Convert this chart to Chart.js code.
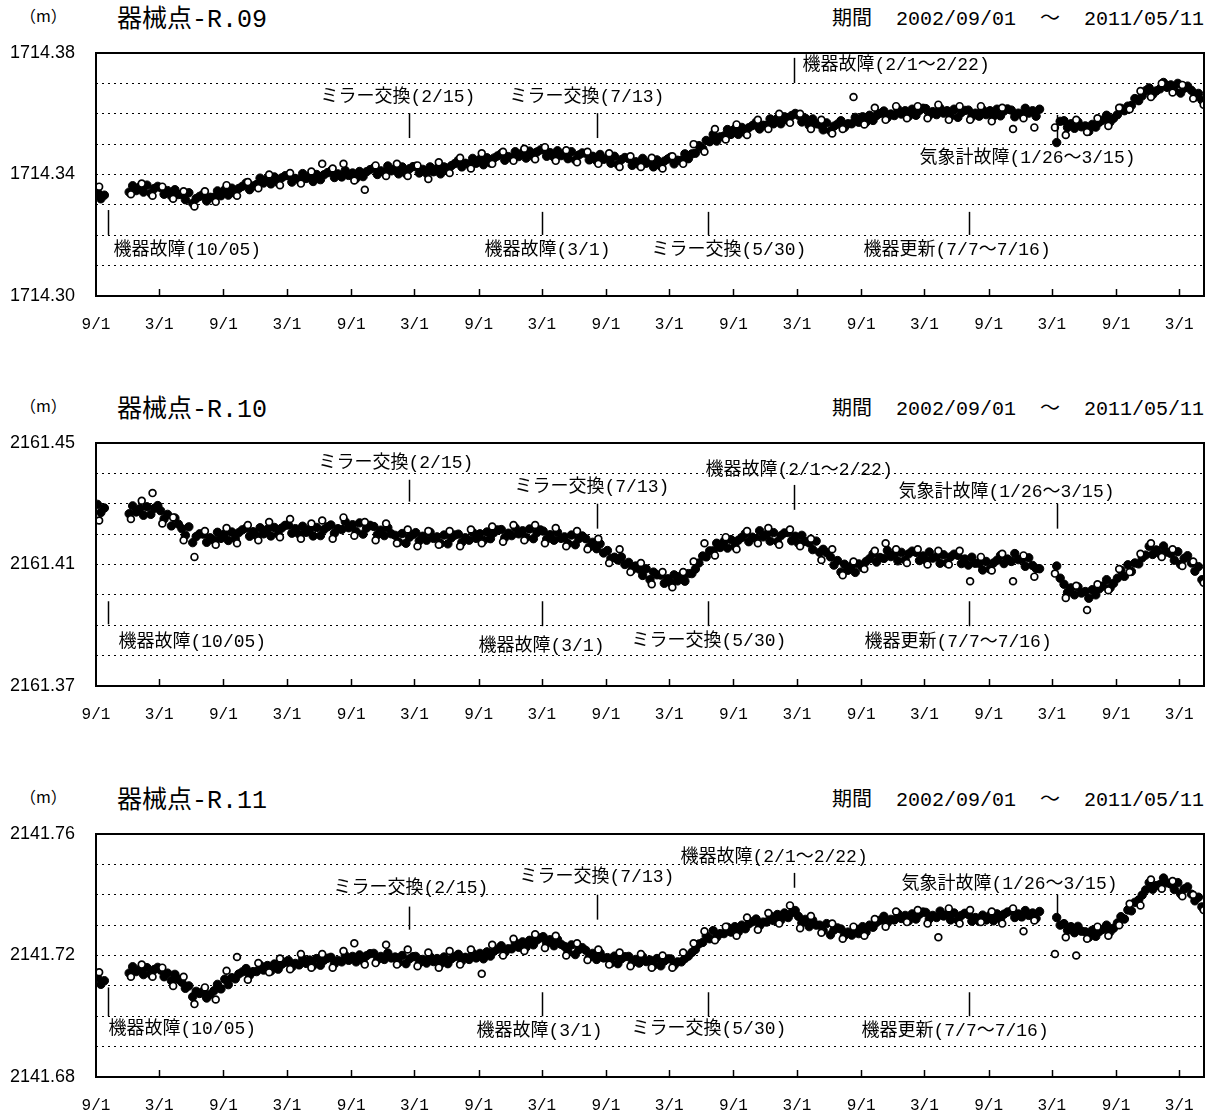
<!DOCTYPE html>
<html lang="ja">
<head>
<meta charset="utf-8">
<script src="https://cdn.jsdelivr.net/npm/chart.js@4.4.1/dist/chart.umd.min.js"></script>
<style>
  body { margin: 0; background: #fff; }
  #page { position: relative; width: 1218px; height: 1117px; overflow: hidden; }
  .panel { position: absolute; left: 0; width: 1218px; height: 345px; }
  .unit { position: absolute; left: 20px; top: 6px; font: 16px "Noto Sans CJK JP"; line-height: 18px; }
  .name { position: absolute; left: 117px; top: 5px; font: 25px "Liberation Mono", "Noto Sans CJK JP"; line-height: 32px; }
  .period { position: absolute; right: 14px; top: 6px; font: 20px "Liberation Mono", "Noto Sans CJK JP"; line-height: 28px; white-space: pre; }
  canvas { position: absolute; left: 0; top: 40px; }
</style>
</head>
<body>
<div id="page"></div>
<script>
// 期間
const PERIOD = '期間  2002/09/01  ～  2011/05/11';
const X_START = '2002-09-01';
const X_END = '2011-05-11';

// x軸の目盛（9/1 と 3/1）
const TICK_DATES = ['2002-09-01', '2003-03-01', '2003-09-01', '2004-03-01', '2004-09-01', '2005-03-01',
  '2005-09-01', '2006-03-01', '2006-09-01', '2007-03-01', '2007-09-01', '2008-03-01',
  '2008-09-01', '2009-03-01', '2009-09-01', '2010-03-01', '2010-09-01', '2011-03-01'];
const TICK_LABELS = ['9/1', '3/1', '9/1', '3/1', '9/1', '3/1', '9/1', '3/1', '9/1',
  '3/1', '9/1', '3/1', '9/1', '3/1', '9/1', '3/1', '9/1', '3/1'];

// 各月の観測日（黒丸 = 5, 15, 25日 / 白丸 = 10日）
const FILLED_DAYS = [5, 15, 25];
const OPEN_DAYS = [10];

// 器械点-R.09 （基準値からの mm）
const R09_BASE = 1714.30;
const R09_FILLED = [
  34.2,32,33.2, null,null,null, null,null,null, 34.2,36.3,34.7,
  36,34.2,36.5, 33.8,35.4,36.1, 35.7,33.5,34.7, 32.9,35,33.4, 33.5,31.7,34, 30.5,32.1,32.8, 33.5,31.3,32.5, 32.5,34.6,33, 35,33.2,35.5, 33.8,35.4,36.1, 37.2,35,36.2, 36.7,38.8,37.2,
  38.7,36.9,39.2, 37.3,38.9,39.6, 39.7,37.5,38.7, 38.2,40.3,38.7, 39.5,37.7,40, 38.3,39.9,40.6, 41.2,39,40.2, 39.2,41.3,39.7, 40.5,38.7,41, 39.3,40.9,41.6, 42.2,40,41.2, 40.7,42.8,41.2,
  42,40.2,42.5, 40.3,41.9,42.6, 42.7,40.5,41.7, 40.4,42.5,40.9, 42,40.2,42.5, 41.3,42.9,43.6, 44.7,42.5,43.7, 43.2,45.3,43.7, 45,43.2,45.5, 43.8,45.4,46.1, 46.9,44.7,45.9, 45.4,47.5,45.9,
  47.2,45.4,47.7, 45.8,47.4,48.1, 48.2,46,47.2, 45.7,47.8,46.2, 47,45.2,47.5, 44.8,46.4,47.1, 47,44.8,46, 44.5,46.6,45, 45.5,43.7,46, 43.3,44.9,45.6, 45.2,43,44.2, 43.2,45.3,43.7,
  44.3,42.5,44.8, 42.8,44.4,45.1, 45.7,43.5,44.7, 44.7,46.8,45.2, 46.8,47,49.5, 48.5,51.2,50.8, 53.2,51,52.4, 52.7,54.8,53.2, 55,53.2,55.5, 53.8,55.4,56.1, 57.2,55,56.2, 56.2,58.3,56.7,
  58.5,56.7,59, 57.8,59.4,60.1, 59.5,57.3,58.5, 56.2,58.3,56.7, 56.5,54.7,57, 54.3,55.9,56.6, 57.7,55.5,56.7, 56.7,58.8,57.2, 59,57.2,59.5, 57.8,59.4,60.1, 60.9,58.7,59.9, 59.4,61.5,59.9,
  61,59.2,61.5, 59.5,61.1,61.8, 61.7,59.5,60.7, 59.7,61.8,60.2, 61,59.2,61.5, 58.8,60.4,61.1, 61.2,59,60.2, 59.2,61.3,59.7, 61,59.2,61.5, 59.3,60.9,61.6, 61.2,59,60.2, 59.7,61.8,60.2,
  61,59.2,61.5, null,null,null, null,50.5,57.5, 57.7,55.5,56.7, 55.2,57.3,55.7, 56,54.2,56.5, 55.6,57.2,57.9, 59.5,57.3,58.5, 59.7,61.8,61, 62.5,62.7,65, 64.3,65.9,67.6, 68.5,66.3,67.5,
  68.2,70.3,68.7, 69.5,67.7,70, 66.8,68.4,69.1, 67.7,65.5,66.7, 64.5,null,null
];
const R09_OPEN = [
  36, null, null, 33.5,
  37, 33, 36, 32, 34.5, 29.5, 34.5, 31, 36.5, 33, 37.5, 35.5,
  40, 36.5, 40.5, 37, 41, 43.5, 42, 43.5, 38, 35, 43, 39.5,
  43.5, 39.5, 43, 38.5, 44, 40.5, 45.5, 42, 47, 43.5, 47.5, 44.5,
  48.5, 45, 49, 44.5, 48, 44, 47.5, 43.5, 47, 42.5, 46, 42.5,
  45.5, 42, 46, 43.5, 50, 47.5, 55, 51.5, 56.5, 53, 58, 55,
  60, 57, 60, 55, 58, 53.5, 55, 65.5, 56.5, 62, 58, 62.5,
  58.5, 62.5, 58.5, 63, 58, 62.5, 58, 62.5, 57.5, 62, 55, 58.5,
  55.5, null, 55.5, 53, 58, 54, 58.5, 56, 62, 61.5, 67.5, 65.5,
  70, 67, 69.5, 65, 63
];
const R09_NOTES = [
  { text: '機器故障(10/05)', at: '2002-10-05', top: 28.3, bottom: 20.1, dx: 5, ty: 15.1 },
  { text: 'ミラー交換(2/15)', at: '2005-02-15', top: 60.2, bottom: 52.0, dx: -89, ty: 65.5 },
  { text: 'ミラー交換(7/13)', at: '2006-08-05', top: 60.2, bottom: 52.0, dx: -88, ty: 65.5 },
  { text: '機器故障(3/1)', at: '2006-03-01', top: 27.7, bottom: 20.1, dx: -58, ty: 15.1 },
  { text: 'ミラー交換(5/30)', at: '2007-06-19', top: 27.7, bottom: 20.1, dx: -57, ty: 15.1 },
  { text: '機器故障(2/1～2/22)', at: '2008-02-22', top: 78.4, bottom: 70.1, dx: 8, ty: 76.0 },
  { text: '気象計故障(1/26～3/15)', at: '2010-03-15', top: 59.6, bottom: 50.7, dx: -138, ty: 45.4 },
  { text: '機器更新(7/7～7/16)', at: '2009-07-07', top: 27.7, bottom: 20.1, dx: -106, ty: 15.1 }
];

// 器械点-R.10
const R10_BASE = 2161.37;
const R10_FILLED = [
  59.8,57.1,58.6, null,null,null, null,null,null, 56.7,59.3,57.3,
  58.4,56.2,59, 56.5,58.5,59.4, 57.7,55,56.5, 52.7,55.3,53.3, 51.8,49.6,52.4, 47.2,49.2,50.1, 50,47.3,48.8, 48,50.6,48.6, 50.1,47.9,50.7, 48.5,50.5,51.4, 52,49.3,50.8, 49.5,52.1,50.1,
  51.6,49.4,52.2, 50,52,52.9, 53,50.3,51.8, 50,52.6,50.6, 51.6,49.4,52.2, 49.5,51.5,52.4, 53,50.3,51.8, 51.5,54.1,52.1, 53.1,50.9,53.7, 50,52,52.9, 52.5,49.8,51.3, 49.5,52.1,50.1,
  49.6,47.4,50.2, 47,49,49.9, 50.5,47.8,49.3, 48,50.6,48.6, 49.1,46.9,49.7, 46.8,48.8,49.7, 50,47.3,48.8, 48,50.6,48.6, 50.1,47.9,50.7, 48.5,50.5,51.4, 51.5,48.8,50.3, 49.5,52.1,50.1,
  51.1,48.9,51.7, 48.5,50.5,51.4, 51,48.3,49.8, 48,50.6,48.6, 49.1,46.9,49.7, 46.5,48.5,49.4, 48.5,45.8,47.3, 45.2,46.8,43.8, 44.6,42,42.4, 41.5,42.5,40, 40.7,38.3,39.5, 38.5,36.4,38.6,
  35,37.5,36.6, 36.5,33.8,35.3, 34,36.6,34.6, 36.4,34.5,37, 37,38.5,40.5, 42.8,42.5,44.5, 44.5,47,45.6, 47.6,45.4,48.2, 46,48,48.9, 50.2,47.5,49, 48.5,51.1,49.1, 49.9,47.7,50.5,
  47.5,49.5,50.4, 50.5,47.8,49.3, 47,49.6,47.6, 47.1,44.9,47.7, 44,45,43.9, 42.5,39.8,41.3, 37.5,40.1,38.1, 39.6,37.4,40.2, 39,41,41.9, 43.5,40.8,42.3, 42,44.6,42.6, 43.4,41.2,44,
  41.5,43.5,44.4, 44,41.3,42.8, 41.5,44.1,42.1, 42.6,40.4,43.2, 40.5,42.5,43.4, 43,40.3,41.8, 39.8,42.4,40.4, 40.4,38.2,41, 38.5,40.5,41.4, 43,40.3,41.8, 41,43.6,41.6, 41.6,39.4,42.2,
  39.7,38.7,38.6, null,null,null, null,39.5,35.5, 33.5,30.8,32.3, 30,32.6,30.6, 31.1,28.9,31.7, 30,32,32.9, 35,32.3,33.8, 35.5,38.1,36.1, 39.9,37.7,40.5, 40.2,42.2,43.1, 46,43.3,44.8,
  43.5,46.1,44.1, 43.6,41.4,44.2, 40,42,42.9, 40.5,37.8,39.3, 35,null,null
];
const R10_OPEN = [
  54.5, null, null, 55,
  61, 63.5, 53.5, 55.5, 48, 42.5, 51, 46.5, 52, 47, 53, 48,
  54, 49, 55, 48.5, 53.5, 54.5, 48.5, 55.5, 49.5, 54, 48, 53.5,
  47, 51.5, 46, 51, 46.5, 51, 46, 51.5, 47, 52.5, 47.5, 53,
  48, 53, 47, 52, 46, 51, 45, 48.5, 40.5, 45, 37.5, 40.5,
  33.5, 37.5, 32.5, 37.5, 41, 47, 43, 49, 45, 51, 47, 52,
  46.5, 51.5, 46, 48.5, 41.5, 45, 36.5, 41, 38.5, 44.5, 47, 45,
  40.5, 45, 40, 44.5, 40, 44.5, 34.5, 42.5, 38, 43.5, 34.5, 43,
  36, null, 37, 29, 33, 25, 33.5, 31.5, 38.5, 37.5, 43.5, 47,
  42.5, 45, 39.5, 41, 34
];
const R10_NOTES = [
  { text: '機器故障(10/05)', at: '2002-10-05', top: 27.9, bottom: 20.3, dx: 10, ty: 14.4 },
  { text: 'ミラー交換(2/15)', at: '2005-02-15', top: 67.9, bottom: 60.7, dx: -91, ty: 73.4 },
  { text: 'ミラー交換(7/13)', at: '2006-08-05', top: 60.0, bottom: 51.8, dx: -83, ty: 65.6 },
  { text: '機器故障(3/1)', at: '2006-03-01', top: 27.9, bottom: 19.7, dx: -64, ty: 13.1 },
  { text: 'ミラー交換(5/30)', at: '2007-06-19', top: 27.9, bottom: 19.7, dx: -77, ty: 14.8 },
  { text: '機器故障(2/1～2/22)', at: '2008-02-22', top: 66.2, bottom: 58.0, dx: -89, ty: 71.1 },
  { text: '気象計故障(1/26～3/15)', at: '2010-03-15', top: 60.0, bottom: 51.8, dx: -159, ty: 63.9 },
  { text: '機器更新(7/7～7/16)', at: '2009-07-07', top: 27.9, bottom: 19.7, dx: -105, ty: 14.4 }
];

// 器械点-R.11
const R11_BASE = 2141.68;
const R11_FILLED = [
  32.7,30.5,31.7, null,null,null, null,null,null, 34.2,36.3,34.7,
  35.5,33.7,36, 33.8,35.4,36.1, 35.2,33,34.2, 31.7,33.8,32.2, 31.2,29.2,30, 26.4,28.2,27.5, 28.2,26,27.2, 28.4,30.5,29, 32.2,30.4,32.7, 32.3,33.9,34.6, 35.7,33.5,34.7, 34.7,36.8,35.2,
  36.7,34.9,37.2, 35.5,37.1,37.8, 38.4,36.2,37.4, 36.9,39,37.4, 38.5,36.7,39, 36.8,38.4,39.1, 39.4,37.2,38.4, 37.9,40,38.4, 39.7,37.9,40.2, 38.3,39.9,40.6, 40.7,38.5,39.7, 38.7,40.8,39.2,
  39.5,37.7,40, 37.3,38.9,39.6, 39.7,37.5,38.7, 37.5,39.6,38, 39,37.2,39.5, 37.3,38.9,39.6, 40.4,38.2,39.4, 38.7,40.8,39.2, 40.7,38.9,41.2, 39.8,41.4,42.1, 43.2,41,42.2, 42.2,44.3,42.7,
  44.5,42.7,45, 43.5,45.1,45.8, 46.2,44,45.2, 43.2,45.3,43.7, 43,41.2,43.5, 40.3,41.9,42.6, 41.7,39.5,40.7, 38.7,40.8,39.2, 39.3,37.5,39.8, 37.3,38.9,39.6, 39.7,37.5,38.7, 37.5,39.6,38,
  38.5,36.7,39, 36.6,38.2,38.9, 38.9,36.7,37.9, 37.9,39,39.8, 41,42,43.8, 44.3,46.4,45.5, 48.2,46,47.2, 47.2,49.3,47.7, 49.5,47.7,50, 48.8,50.4,51.1, 52,49.8,51, 51,53.1,51.5,
  53.5,51.7,54, 52.5,54.1,54.8, 52.9,50.7,51.9, 49.5,51.6,50, 50,48.2,50.5, 46.8,48.4,49.1, 48.7,46.5,47.7, 46.7,48.8,47.2, 49.5,47.7,50, 49.3,50.9,51.6, 52.9,50.7,51.9, 51.7,53.8,52.2,
  53.2,51.4,53.7, 52,53.6,54.3, 54.2,52,53.2, 52.5,54.6,53, 53.5,51.7,54, 51.6,53.2,53.9, 53.5,51.3,52.5, 51.2,53.3,51.7, 53.2,51.4,53.7, 52,53.6,54.3, 54.7,52.5,53.7, 52.7,54.8,53.2,
  54,52.2,54.5, null,null,null, null,52.5,50, 50.5,48.3,49.5, 47.5,49.6,48, 47.8,46,48.3, 46.3,47.9,48.6, 50,47.8,49, 50.7,52.8,52, 55,54.7,57.5, 58.3,59.9,61.6, 64,61.8,63,
  63.4,65.5,63.9, 63.5,61.7,64, 60.3,61.9,62.6, 60.2,58,59.2, 56,null,null
];
const R11_OPEN = [
  34.5, null, null, 33,
  37, 33, 36, 30, 33, 24, 29.5, 25.5, 35, 39.5, 32, 37.5,
  34.5, 39, 35.5, 40.5, 36, 40.5, 36, 41.5, 44, 37, 37.5, 43.5,
  37, 42, 36.5, 41, 36, 41.5, 37, 42, 34, 43.5, 40, 45.5,
  41.5, 47, 42.5, 46.5, 40, 44, 38.5, 42, 37, 41, 36.5, 40.5,
  36, 40, 36, 41, 44, 48, 45, 49.5, 46.5, 52.5, 48.5, 54,
  50.5, 56.5, 49, 53, 47.5, 50.5, 45.5, 49.5, 46.5, 52, 49.5, 54.5,
  51, 55, 50.5, 46, 55.5, 50.5, 55, 51, 54.5, 50.5, 55.5, 48,
  51.5, null, 40.5, 46, 40, 45.5, 49.5, 46.5, 50, 57, 56.5, 65,
  62, 64.5, 59.5, 60, 55
];
const R11_NOTES = [
  { text: '機器故障(10/05)', at: '2002-10-05', top: 29.5, bottom: 20.0, dx: 0, ty: 15.7 },
  { text: 'ミラー交換(2/15)', at: '2005-02-15', top: 56.1, bottom: 48.5, dx: -76, ty: 62.3 },
  { text: 'ミラー交換(7/13)', at: '2006-08-05', top: 60.0, bottom: 51.8, dx: -78, ty: 65.9 },
  { text: '機器故障(3/1)', at: '2006-03-01', top: 27.9, bottom: 20.0, dx: -66, ty: 15.1 },
  { text: 'ミラー交換(5/30)', at: '2007-06-19', top: 27.9, bottom: 20.0, dx: -77, ty: 15.7 },
  { text: '機器故障(2/1～2/22)', at: '2008-02-22', top: 67.2, bottom: 62.3, dx: -114, ty: 72.5 },
  { text: '気象計故障(1/26～3/15)', at: '2010-03-15', top: 60.0, bottom: 52.8, dx: -156, ty: 63.3 },
  { text: '機器更新(7/7～7/16)', at: '2009-07-07', top: 27.9, bottom: 20.0, dx: -108, ty: 15.1 }
];

const PANELS = [
  { name: '器械点-R.09', top: 0, base: R09_BASE, filled: R09_FILLED, open: R09_OPEN, notes: R09_NOTES },
  { name: '器械点-R.10', top: 390, base: R10_BASE, filled: R10_FILLED, open: R10_OPEN, notes: R10_NOTES },
  { name: '器械点-R.11', top: 781, base: R11_BASE, filled: R11_FILLED, open: R11_OPEN, notes: R11_NOTES }
];

const DAY_MS = 86400000;
const NOTE_FONT = '18px "Liberation Mono", "Noto Sans CJK JP"';

// 日付文字列 → 2002/09/01 からの日数
function dayOf(str) {
  const [y, m, d] = str.split('-').map(Number);
  const [y0, m0, d0] = X_START.split('-').map(Number);
  return (Date.UTC(y, m - 1, d) - Date.UTC(y0, m0 - 1, d0)) / DAY_MS;
}

// 月ごとの値の並び → 散布図の点
function monthPoints(values, days, base) {
  const pts = [];
  values.forEach((v, i) => {
    if (v === null) return;
    const m = Math.floor(i / days.length);
    const d = days[i % days.length];
    const x = (Date.UTC(2002, 8 + m, d) - Date.UTC(2002, 8, 1)) / DAY_MS;
    pts.push({ x: x, y: base + v / 1000 });
  });
  return pts;
}

// 枠・内向き目盛・注記
const panelDecor = {
  id: 'panelDecor',
  beforeDraw(chart) {
    const ctx = chart.ctx;
    ctx.save();
    ctx.fillStyle = '#fff';
    ctx.fillRect(0, 0, chart.width, chart.height);
    ctx.restore();
  },
  afterDatasetsDraw(chart, args, opts) {
    const { ctx, chartArea: a } = chart;
    const xs = chart.scales.x;
    const ys = chart.scales.y;
    ctx.save();
    ctx.strokeStyle = '#000';
    ctx.lineWidth = 1.5;
    xs.ticks.forEach(t => {
      const px = Math.round(xs.getPixelForValue(t.value)) + 0.5;
      if (px <= a.left + 2) return;
      ctx.beginPath();
      ctx.moveTo(px, a.bottom);
      ctx.lineTo(px, a.bottom - 7);
      ctx.stroke();
    });

    ctx.font = NOTE_FONT;
    ctx.fillStyle = '#000';
    ctx.textBaseline = 'middle';
    ctx.textAlign = 'left';
    opts.notes.forEach(n => {
      const px = Math.round(xs.getPixelForValue(dayOf(n.at))) + 0.5;
      ctx.beginPath();
      ctx.moveTo(px, ys.getPixelForValue(opts.base + n.top / 1000));
      ctx.lineTo(px, ys.getPixelForValue(opts.base + n.bottom / 1000));
      ctx.stroke();
      ctx.fillText(n.text, px + n.dx, ys.getPixelForValue(opts.base + n.ty / 1000));
    });

    ctx.lineWidth = 2;
    ctx.strokeRect(a.left, a.top, a.width, a.height);
    ctx.restore();
  }
};

const page = document.getElementById('page');

PANELS.forEach(p => {
  const div = document.createElement('div');
  div.className = 'panel';
  div.style.top = p.top + 'px';
  div.innerHTML =
    '<div class="unit">（m）</div>' +
    '<div class="name">' + p.name + '</div>' +
    '<div class="period">' + PERIOD + '</div>';
  const canvas = document.createElement('canvas');
  canvas.width = 1218;
  canvas.height = 305;
  div.appendChild(canvas);
  page.appendChild(div);

  new Chart(canvas.getContext('2d'), {
    type: 'scatter',
    data: {
      datasets: [
        {
          label: 'open',
          data: monthPoints(p.open, OPEN_DAYS, p.base),
          pointRadius: 3.4,
          pointBackgroundColor: '#fff',
          pointBorderColor: '#000',
          pointBorderWidth: 1.7,
          order: 0
        },
        {
          label: 'filled',
          data: monthPoints(p.filled, FILLED_DAYS, p.base),
          pointRadius: 4.2,
          pointBackgroundColor: '#000',
          pointBorderColor: '#000',
          pointBorderWidth: 1,
          order: 1
        }
      ]
    },
    plugins: [panelDecor],
    options: {
      responsive: false,
      animation: false,
      devicePixelRatio: 1,
      layout: { padding: { top: 13, right: 14, left: 0, bottom: 0 } },
      plugins: {
        legend: { display: false },
        tooltip: { enabled: false },
        panelDecor: { notes: p.notes, base: p.base }
      },
      scales: {
        x: {
          type: 'linear',
          min: 0,
          max: dayOf(X_END),
          grid: { display: false },
          border: { display: false },
          afterBuildTicks: s => { s.ticks = TICK_DATES.map(d => ({ value: dayOf(d) })); },
          afterFit: s => { s.height = 49; },
          ticks: {
            autoSkip: false,
            maxRotation: 0,
            padding: 11,
            color: '#000',
            font: { family: '"Liberation Mono", monospace', size: 16 },
            callback: (v, i) => TICK_LABELS[i]
          }
        },
        y: {
          type: 'linear',
          min: p.base,
          max: p.base + 0.08,
          grid: { color: '#000', lineWidth: 1, drawTicks: false },
          border: { display: false, dash: [2, 4] },
          afterBuildTicks: s => {
            const t = [];
            for (let k = 0; k <= 8; k++) t.push({ value: p.base + k / 100 });
            s.ticks = t;
          },
          afterFit: s => {
            s.width = 96;
            s.paddingTop = 0;
            s.paddingBottom = 0;
          },
          ticks: {
            padding: 21,
            color: '#000',
            font: { family: '"Liberation Sans", sans-serif', size: 18 },
            callback: (v, i) => (i % 4 === 0 ? v.toFixed(2) : '')
          }
        }
      }
    }
  });
});
</script>
</body>
</html>
